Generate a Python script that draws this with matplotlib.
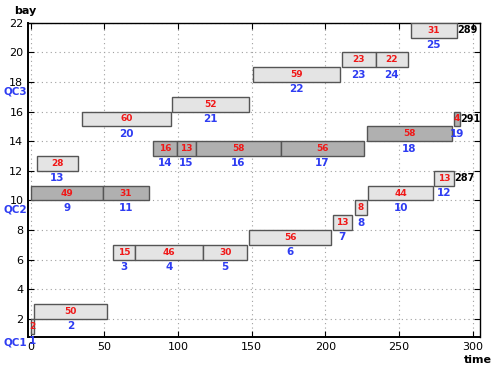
import numpy as np
import matplotlib
matplotlib.use('Agg')
import matplotlib.pyplot as plt
from matplotlib.patches import Rectangle

# zadania: numer, start, czas, bay, dzwig
zadania = [1, 2, 3, 4, 5, 6, 7, 8, 10, 12,
           9, 11, 14, 15, 16, 17, 18, 19,
           13, 20, 21, 22, 23, 24, 25]
start = [0, 2, 56, 71, 117, 148, 205, 220, 229, 274,
         0, 49, 83, 99, 112, 170, 228, 287,
         4, 35, 96, 151, 211, 234, 258]
czas = [2, 50, 15, 46, 30, 56, 13, 8, 44, 13,
        49, 31, 16, 13, 58, 56, 58, 4,
        28, 60, 52, 59, 23, 22, 31]
bay = [1, 2, 6, 6, 6, 7, 8, 9, 10, 11,
       10, 10, 13, 13, 13, 13, 14, 15,
       12, 15, 16, 18, 19, 19, 21]
dzwig = [1, 1, 1, 1, 1, 1, 1, 1, 1, 1,
         2, 2, 2, 2, 2, 2, 2, 2,
         3, 3, 3, 3, 3, 3, 3]
nazwy_qc = ['QC1', 'QC2', 'QC3']
bay_qc = [1, 10, 18]
koniec_qc = [287, 291, 289]

kolor_jasny = '#e4e4e4'
kolor_ciemny = '#b0b0b0'
niebieski = '#2e3cf2'
czerwony = '#f01818'

fig = plt.figure(figsize=(4.96, 3.69), dpi=100)
ax = fig.add_axes([0.057, 0.0875, 0.911, 0.851])

for i in range(len(zadania)):
    kolor = kolor_ciemny if dzwig[i] == 2 else kolor_jasny
    ax.add_patch(Rectangle((start[i], bay[i]), czas[i], 1, facecolor=kolor,
                           edgecolor='#555555', linewidth=1.0, zorder=3))
    ax.text(start[i] + czas[i] / 2, bay[i] + 0.5, str(czas[i]), color=czerwony,
            fontsize=6.5, fontweight='bold', ha='center', va='center', zorder=4)
    ax.text(start[i] + czas[i] / 2, bay[i] - 0.5, str(zadania[i]), color=niebieski,
            fontsize=7.5, fontweight='bold', ha='center', va='center', zorder=4)

for k in range(3):
    ax.text(-2.5, bay_qc[k] - 0.62, nazwy_qc[k], color=niebieski, fontsize=7.5,
            fontweight='bold', ha='right', va='center')
    idx = [i for i in range(len(zadania)) if dzwig[i] == k + 1][-1]
    ax.text(koniec_qc[k] + 0.3, bay[idx] + 0.5, str(koniec_qc[k]), color='black',
            fontsize=7, fontweight='bold', ha='left', va='center', zorder=4)

ax.set_xlim(-1.7, 305)
ax.set_ylim(0.8, 22)
ax.set_xticks(np.arange(0, 301, 50))
ax.set_yticks(np.arange(2, 23, 2))
ax.tick_params(direction='in', top=True, right=True, labelsize=8, length=4)
ax.grid(True, linestyle=(0, (1, 3)), color='#a0a0a0', linewidth=0.8)
ax.set_axisbelow(True)
for s in ax.spines.values():
    s.set_linewidth(1.0)
ax.spines['left'].set_linewidth(1.4)
ax.spines['bottom'].set_linewidth(1.4)

fig.text(0.028, 0.97, 'bay', fontsize=8, fontweight='bold', va='center')
fig.text(0.935, 0.025, 'time', fontsize=8, fontweight='bold', va='center')

fig.savefig('out.png', dpi=100)
